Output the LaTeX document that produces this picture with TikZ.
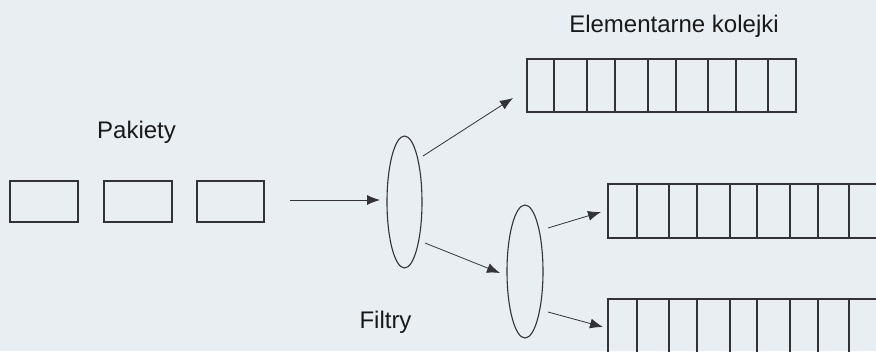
\documentclass[tikz,border=0pt]{standalone}
\usepackage{fontspec}
\setmainfont{Liberation Sans}
\usetikzlibrary{arrows.meta,calc,shapes.geometric}
\definecolor{paper}{RGB}{233,238,243}
\definecolor{ink}{RGB}{50,50,55}
\definecolor{txt}{RGB}{25,25,25}
\tikzset{
  packet/.style={draw=ink, line width=1.2pt, inner sep=0pt, outer sep=0pt,
                 minimum width=68pt, minimum height=41pt},
  filter/.style={draw=ink, line width=1.1pt, ellipse, inner sep=0pt, outer sep=0pt},
  queue/.style={draw=ink, line width=1.2pt, inner sep=0pt, outer sep=0pt},
  divider/.style={draw=ink, line width=1.1pt},
  arr/.style={draw=ink, line width=0.8pt, -{Latex[length=13pt,width=10pt]}},
  label/.style={font=\fontsize{24}{28}\selectfont, text=txt, anchor=base, inner sep=0pt}
}
\begin{document}
\begin{tikzpicture}[x=1pt,y=-1pt]
  \useasboundingbox (0,0) rectangle (876,351);
  \fill[paper] (0,0) rectangle (876,351);
  \begin{scope}
    \clip (0,0) rectangle (876,351);

    % incoming packets
    \node[packet] (p1) at (44,201.5) {};
    \node[packet] (p2) at (138,201.5) {};
    \node[packet, minimum width=67pt] (p3) at (230.5,201.5) {};

    % filters
    \node[filter, minimum width=35pt, minimum height=132pt] (f1) at (404.5,202) {};
    \node[filter, minimum width=36pt, minimum height=133pt] (f2) at (525,271.5) {};

    % elementary queues
    \node[queue, minimum width=269pt, minimum height=53pt] (q1) at (661.5,85.5) {};
    \node[queue, minimum width=292pt, minimum height=54pt] (q2) at (754,211) {};
    \node[queue, minimum width=292pt, minimum height=54pt] (q3) at (754,326) {};

    \foreach \x in {554,587,615,648,676,708,736,768}
      \draw[divider] (\x,0 |- q1.north) -- (\x,0 |- q1.south);
    \foreach \x in {637,669,697,730,757,790,818,849} {
      \draw[divider] (\x,0 |- q2.north) -- (\x,0 |- q2.south);
      \draw[divider] (\x,0 |- q3.north) -- (\x,0 |- q3.south);
    }

    % connectors
    \coordinate (src) at (290,200);
    \draw[arr] (src) -- ($(f1.west)+(-7,-2)$);
    \draw[arr] ($(f1.center)+(18.5,-46)$) -- ($(q1.west)+(-14,12.5)$);
    \draw[arr] ($(f1.center)+(20.5,41)$) -- ($(f2.west)+(-7,1.5)$);
    \draw[arr] ($(f2.center)+(23,-43.5)$) -- ($(q2.west)+(-7,1)$);
    \draw[arr] ($(f2.center)+(23,40.5)$) -- ($(q3.west)+(-5,1)$);
  \end{scope}

  % labels
  \node[label] (lp) at (136.5,138) {Pakiety};
  \node[label] (lq) at (674,32) {Elementarne kolejki};
  \node[label] (lf) at (385.5,328) {Filtry};
\end{tikzpicture}
\end{document}
